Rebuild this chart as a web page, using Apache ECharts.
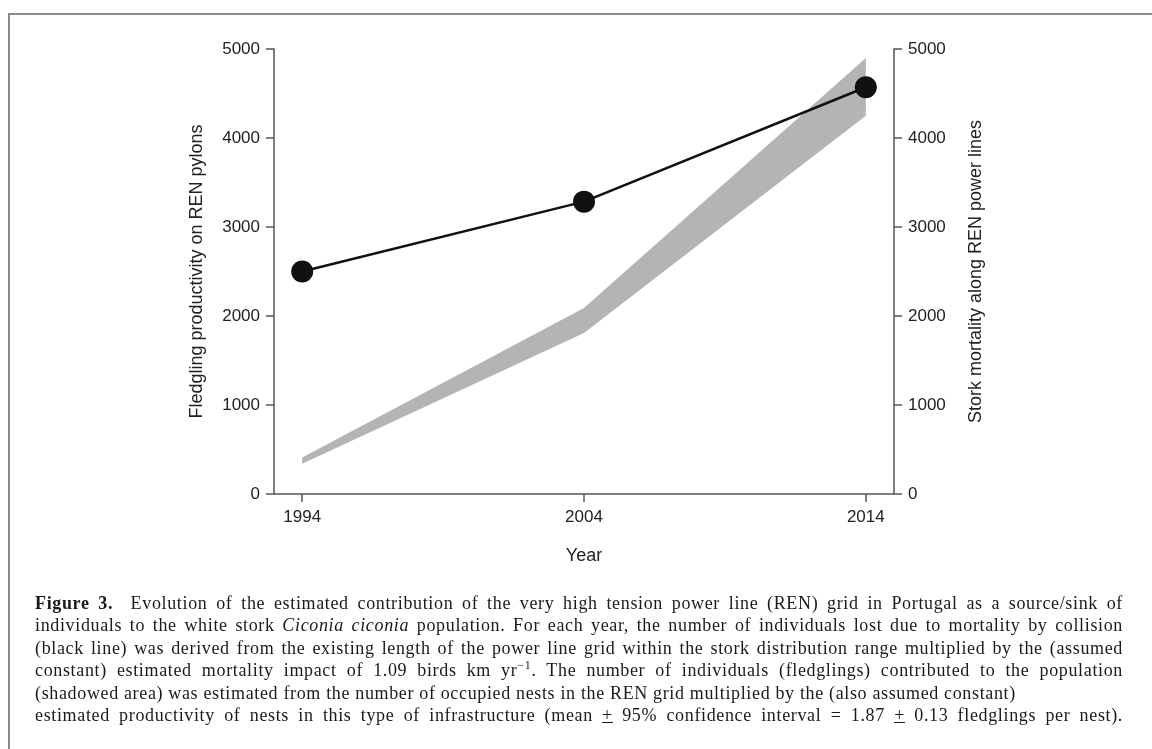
<!DOCTYPE html>
<html>
<head>
<meta charset="utf-8">
<script src="https://cdn.jsdelivr.net/npm/echarts@6/dist/echarts.min.js"></script>
<style>
  html, body { margin: 0; padding: 0; background: #fff; }
  #wrap { position: relative; width: 1152px; height: 749px; overflow: hidden; background: #fff; }
  #frame { position: absolute; left: 8px; top: 13px; width: 1160px; height: 760px; border: 2px solid #8a8a8a; box-sizing: border-box; }
  #chart { position: absolute; left: 0; top: 0; width: 1152px; height: 749px; }
  #caption { position: absolute; left: 35px; top: 592px; width: 1088px; font-family: "Liberation Serif", "DejaVu Serif", serif; font-size: 18px; letter-spacing: 0.65px; color: #1a1a1a; line-height: 22.4px; }
  #caption .ln { text-align: justify; text-align-last: justify; white-space: nowrap; }
  #caption .ln.last { text-align-last: left; }
  #caption b { font-weight: bold; }
</style>
</head>
<body>
<div id="wrap">
  <div id="frame"></div>
  <div id="chart"></div>
  <div id="caption">
    <div class="ln"><b>Figure 3.</b>&nbsp; Evolution of the estimated contribution of the very high tension power line (REN) grid in Portugal as a source/sink of</div>
    <div class="ln">individuals to the white stork <i>Ciconia ciconia</i> population. For each year, the number of individuals lost due to mortality by collision</div>
    <div class="ln">(black line) was derived from the existing length of the power line grid within the stork distribution range multiplied by the (assumed</div>
    <div class="ln">constant) estimated mortality impact of 1.09 birds km yr<sup style="font-size:12px;line-height:0">−1</sup>. The number of individuals (fledglings) contributed to the population</div>
    <div class="ln last">(shadowed area) was estimated from the number of occupied nests in the REN grid multiplied by the (also assumed constant)</div>
    <div class="ln">estimated productivity of nests in this type of infrastructure (mean <u>+</u> 95% confidence interval = 1.87 <u>+</u> 0.13 fledglings per nest).</div>
  </div>
</div>
<script>
// ---- data ----
var years = [1994, 2004, 2014];
var yearTicks = [1994, 2004, 2014];
var fledglingLower = [340, 1810, 4250];   // shadowed area, lower bound
var fledglingUpper = [410, 2090, 4900];   // shadowed area, upper bound
var mortality = [2500, 3285, 4570];       // black line
var yTicks = [0, 1000, 2000, 3000, 4000, 5000];

var chart = echarts.init(document.getElementById('chart'), null, { renderer: 'canvas' });

var axisColor = '#555';
var textColor = '#222';
var labelFont = { fontFamily: 'Liberation Sans, Arial, sans-serif', fontSize: 17, color: textColor };
var plain = function (v) { return String(v); };

var option = {
  backgroundColor: 'transparent',
  animation: false,
  grid: { left: 274, right: 258, top: 49, bottom: 255, containLabel: false },
  xAxis: {
    type: 'value',
    min: 1993, max: 2015,
    name: 'Year',
    nameLocation: 'middle',
    nameGap: 53,
    nameTextStyle: { fontFamily: 'Liberation Sans, Arial, sans-serif', fontSize: 18, color: textColor },
    axisLine: { show: true, lineStyle: { color: axisColor, width: 1.5 } },
    axisTick: { show: true, length: 8, customValues: yearTicks, lineStyle: { color: axisColor, width: 1.5 } },
    axisLabel: Object.assign({ margin: 15, customValues: yearTicks, formatter: plain }, labelFont),
    splitLine: { show: false }
  },
  yAxis: [
    {
      type: 'value', min: 0, max: 5000, interval: 1000, position: 'left',
      name: 'Fledgling productivity on REN pylons',
      nameLocation: 'middle', nameGap: 68, nameRotate: 90,
      nameTextStyle: { fontFamily: 'Liberation Sans, Arial, sans-serif', fontSize: 18, color: textColor },
      axisLine: { show: true, lineStyle: { color: axisColor, width: 1.5 } },
      axisTick: { show: true, length: 8, customValues: yTicks, lineStyle: { color: axisColor, width: 1.5 } },
      axisLabel: Object.assign({ margin: 14, customValues: yTicks, formatter: plain }, labelFont),
      splitLine: { show: false }
    },
    {
      type: 'value', min: 0, max: 5000, interval: 1000, position: 'right',
      name: 'Stork mortality along REN power lines',
      nameLocation: 'middle', nameGap: 73, nameRotate: 90,
      nameTextStyle: { fontFamily: 'Liberation Sans, Arial, sans-serif', fontSize: 18, color: textColor },
      axisLine: { show: true, lineStyle: { color: axisColor, width: 1.5 } },
      axisTick: { show: true, length: 8, customValues: yTicks, lineStyle: { color: axisColor, width: 1.5 } },
      axisLabel: Object.assign({ margin: 14, customValues: yTicks, formatter: plain }, labelFont),
      splitLine: { show: false }
    }
  ],
  series: [
    {
      name: 'Fledglings',
      type: 'custom',
      xAxisIndex: 0, yAxisIndex: 0,
      data: years.map(function (y, i) { return [y, fledglingLower[i], fledglingUpper[i]]; }),
      renderItem: function (params, api) {
        if (params.dataIndex !== 0) return null;
        var pts = [];
        for (var i = 0; i < years.length; i++) pts.push(api.coord([years[i], fledglingUpper[i]]));
        for (var j = years.length - 1; j >= 0; j--) pts.push(api.coord([years[j], fledglingLower[j]]));
        return { type: 'polygon', shape: { points: pts }, style: { fill: '#b4b4b6', stroke: null } };
      },
      z: 1
    },
    {
      name: 'Mortality',
      type: 'line',
      xAxisIndex: 0, yAxisIndex: 1,
      data: years.map(function (y, i) { return [y, mortality[i]]; }),
      symbol: 'circle', symbolSize: 22,
      lineStyle: { color: '#111', width: 2.5 },
      itemStyle: { color: '#111' },
      z: 3
    }
  ]
};
chart.setOption(option);
</script>
</body>
</html>
